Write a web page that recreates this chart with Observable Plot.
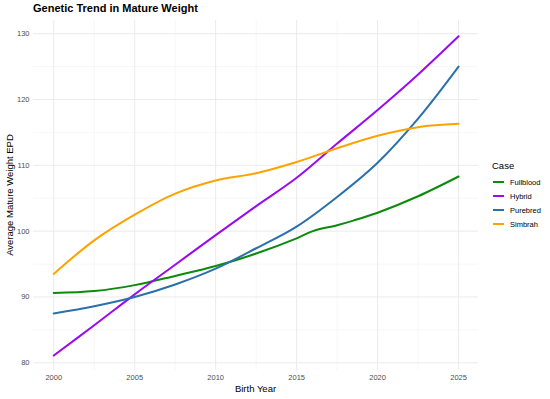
<!DOCTYPE html>
<html><head><meta charset="utf-8">
<script src="https://cdn.jsdelivr.net/npm/d3@7"></script>
<script src="https://cdn.jsdelivr.net/npm/@observablehq/plot@0.6"></script>
<style>
body{margin:0;background:#fff;font-family:"Liberation Sans",Arial,sans-serif;}
#wrap{position:relative;width:550px;height:399px;overflow:hidden;}
#title{position:absolute;left:33px;top:1.5px;font-weight:bold;font-size:11px;color:#000;white-space:nowrap;}
#ylab{position:absolute;left:9px;top:195px;transform:translate(-50%,-50%) rotate(-90deg);font-size:9.5px;color:#000;white-space:nowrap;}
#xlab{position:absolute;left:255.5px;top:388px;transform:translate(-50%,-50%);font-size:9.5px;color:#000;white-space:nowrap;}
#legend{position:absolute;left:492px;top:160px;}
#legend .lt{font-size:9.5px;color:#000;margin-bottom:4px;}
#legend .it{display:flex;align-items:center;height:14px;}
#legend .sw{width:11px;height:2px;margin-left:1px;margin-right:6px;}
#legend .lb{font-size:7.5px;color:#000;}
</style>
</head><body>
<div id="wrap">
  <div id="chart"></div>
  <div id="title">Genetic Trend in Mature Weight</div>
  <div id="ylab">Average Mature Weight EPD</div>
  <div id="xlab">Birth Year</div>
  <div id="legend"></div>
</div>
<script>
const cases = ["Fullblood", "Hybrid", "Purebred", "Simbrah"];
const caseColors = ["#0c8a0c", "#9b0af0", "#2b70ab", "#ffa200"];

const years = [2000, 2002.5, 2005, 2007.5, 2010, 2012.5, 2015, 2017.5, 2020, 2022.5, 2025];
const fullbloodYears = [2000, 2002.5, 2005, 2007.5, 2010, 2012.5, 2015, 2016, 2017.5, 2018.5, 2020, 2022.5, 2025];
const fullblood = [90.6, 90.9, 91.8, 93.2, 94.7, 96.6, 98.9, 100.0, 100.9, 101.6, 102.8, 105.3, 108.3];
const hybrid = [81.1, 85.7, 90.4, 94.9, 99.4, 103.8, 108.1, 113.3, 118.4, 123.8, 129.6];
const purebred = [87.5, 88.6, 90.0, 91.9, 94.3, 97.4, 100.7, 105.2, 110.4, 117.1, 125.0];
const simbrah = [93.5, 98.6, 102.5, 105.7, 107.7, 108.8, 110.5, 112.6, 114.5, 115.8, 116.3];

const xMajor = [2000, 2005, 2010, 2015, 2020, 2025];
const xMinor = [2002.5, 2007.5, 2012.5, 2017.5, 2022.5];
const yMajor = [80, 90, 100, 110, 120, 130];
const yMinor = [85, 95, 105, 115, 125];

const rows = [];
fullbloodYears.forEach((y, i) => rows.push({year: y, epd: fullblood[i], case: "Fullblood"}));
years.forEach((y, i) => rows.push({year: y, epd: hybrid[i], case: "Hybrid"}));
years.forEach((y, i) => rows.push({year: y, epd: purebred[i], case: "Purebred"}));
years.forEach((y, i) => rows.push({year: y, epd: simbrah[i], case: "Simbrah"}));

const plot = Plot.plot({
  width: 550,
  height: 399,
  marginLeft: 33,
  marginRight: 72,
  marginTop: 20,
  marginBottom: 29,
  style: {background: "#fff", fontFamily: "Liberation Sans, Arial, sans-serif"},
  x: {domain: [1998.75, 2026.23]},
  y: {domain: [78.83, 132.0]},
  color: {domain: cases, range: caseColors},
  marks: [
    Plot.ruleX(xMinor, {stroke: "#f3f3f3", strokeWidth: 0.7}),
    Plot.ruleY(yMinor, {stroke: "#f3f3f3", strokeWidth: 0.7}),
    Plot.ruleX(xMajor, {stroke: "#ebebeb", strokeWidth: 1}),
    Plot.ruleY(yMajor, {stroke: "#ebebeb", strokeWidth: 1}),
    Plot.axisX(xMajor, {tickSize: 0, tickPadding: 4, fontSize: 7.5, color: "#4d4d4d", tickFormat: d => String(d), label: null}),
    Plot.axisY(yMajor, {tickSize: 0, tickPadding: 4, fontSize: 7.5, color: "#4d4d4d", label: null}),
    Plot.line(rows, {x: "year", y: "epd", stroke: "case", z: "case", strokeWidth: 2, curve: "catmull-rom"})
  ]
});
document.getElementById("chart").appendChild(plot);

const lg = document.getElementById("legend");
const t = document.createElement("div"); t.className = "lt"; t.textContent = "Case"; lg.appendChild(t);
cases.forEach((c, i) => {
  const it = document.createElement("div"); it.className = "it";
  const sw = document.createElement("div"); sw.className = "sw"; sw.style.background = caseColors[i];
  const lb = document.createElement("div"); lb.className = "lb"; lb.textContent = c;
  it.appendChild(sw); it.appendChild(lb); lg.appendChild(it);
});
</script>
</body></html>
